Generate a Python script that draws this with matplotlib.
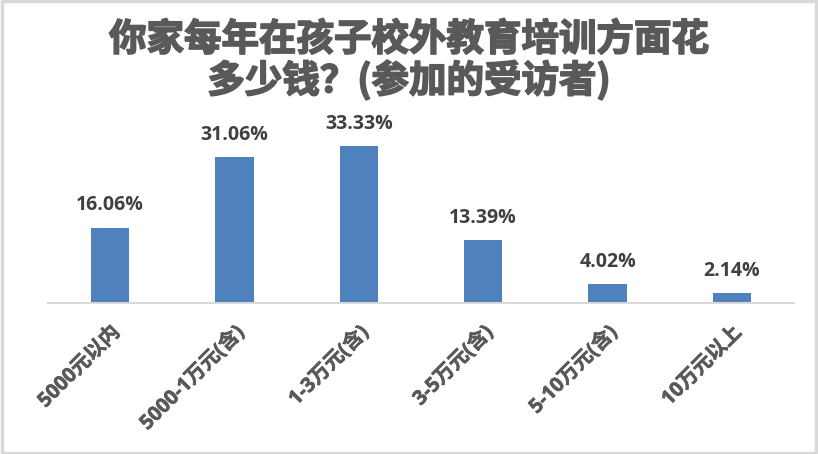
import matplotlib
matplotlib.use("Agg")
import matplotlib.pyplot as plt
from matplotlib.patches import Rectangle
import matplotlib.patheffects as pe

categories = ["5000元以内", "5000-1万元(含)", "1-3万元(含)", "3-5万元(含)", "5-10万元(含)", "10万元以上"]
values = [16.06, 31.06, 33.33, 13.39, 4.02, 2.14]
value_labels = ["16.06%", "31.06%", "33.33%", "13.39%", "4.02%", "2.14%"]
title = "你家每年在孩子校外教育培训方面花\n多少钱？(参加的受访者)"

fonts = ["Open Sans", "Noto Sans CJK SC", "DejaVu Sans"]
plt.rcParams["font.family"] = fonts

W, H = 818, 454
fig = plt.figure(figsize=(W / 100, H / 100), dpi=100)
fig.patch.set_facecolor("white")

ax = fig.add_axes([48 / W, 1 - 303 / H, (794 - 48) / W, (303 - 120) / H])
x = list(range(len(categories)))
ax.bar(x, values, width=0.31, color="#4F81BD", zorder=2)
ax.set_xlim(-0.5, len(categories) - 0.5)
ax.set_ylim(0, 183 / 4.70)

for xi, v, lab in zip(x, values, value_labels):
    ax.annotate(lab, (xi, v), xytext=(0, 12.5), textcoords="offset points",
                ha="center", va="baseline", fontsize=14, fontweight="bold",
                color="#404040", family=fonts)

ax.set_xticks(x)
ax.set_xticklabels(categories, rotation=45, ha="right", va="top",
                   rotation_mode="anchor", fontsize=14.5, fontweight="bold",
                   color="#595959", family=fonts)
for t in ax.get_xticklabels():
    t.set_path_effects([pe.withStroke(linewidth=0.4, foreground="#595959")])
ax.tick_params(axis="x", length=0, pad=14)
ax.set_yticks([])
for s in ["top", "right", "left"]:
    ax.spines[s].set_visible(False)
ax.spines["bottom"].set_color("#D9D9D9")
ax.spines["bottom"].set_linewidth(1.5)
ax.set_facecolor("none")

fig.text(0.5, 1 - 60 / H, title, ha="center", va="center", fontsize=27,
         fontweight="bold", color="#595959", linespacing=1.05,
         family=["Noto Sans CJK SC", "DejaVu Sans"],
         path_effects=[pe.withStroke(linewidth=1.2, foreground="#595959")])

fig.patches.append(Rectangle((0.002, 0.003), 0.996, 0.994, transform=fig.transFigure,
                             fill=False, edgecolor="#D9D9D9", linewidth=2.5))

fig.savefig("out.png", dpi=100, facecolor="white")
